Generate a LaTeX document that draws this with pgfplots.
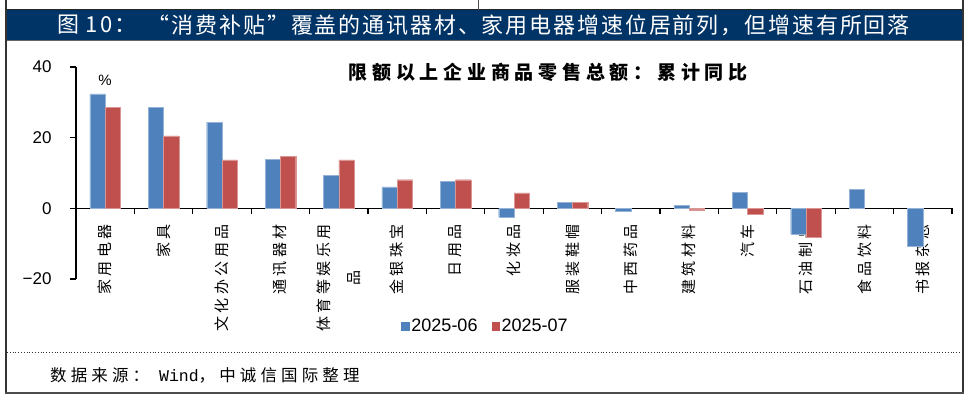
\documentclass[border=0pt]{standalone}
\usepackage{pgfplots}
\pgfplotsset{compat=1.18}
\usepackage{fontspec}
\setmainfont{Liberation Sans}
\newfontfamily\cjk{Noto Sans CJK SC}
\newfontfamily\cjktitle[LetterSpace=8.5]{Noto Sans CJK SC}
\newfontfamily\cjksub[LetterSpace=25]{Noto Sans CJK SC}
\newfontfamily\cjklab[LetterSpace=23]{Noto Sans CJK SC}
\newfontfamily\cjksrc[LetterSpace=25]{Noto Sans CJK SC}
\newfontfamily\mono{Liberation Mono}
\definecolor{barblue}{RGB}{79,129,189}
\definecolor{barred}{RGB}{192,80,77}
\definecolor{navy}{RGB}{0,51,102}
\begin{document}
\begin{tikzpicture}
\useasboundingbox (0,0) rectangle (970pt,398pt);
\fill[white] (0,0) rectangle (970pt,398pt);
% title bar
\fill[navy] (7pt,358pt) rectangle (963pt,388pt);
\draw[black!85, line width=1pt] (6pt,388.5pt) -- (963pt,388.5pt);
\draw[black!60, line width=1pt] (6pt,357.5pt) -- (963pt,357.5pt);
\node[anchor=west, text=white, inner sep=0pt, font=\cjktitle\fontsize{22}{24}\selectfont] at (57pt,373pt) {图 10：};
\node[anchor=east, text=white, inner sep=0pt, font=\cjktitle\fontsize{22}{24}\selectfont] at (910pt,373pt) {“消费补贴”覆盖的通讯器材、家用电器增速位居前列，但增速有所回落};
% borders
\draw[black!80, line width=2pt] (6pt,398pt) -- (6pt,5pt);
\draw[black!80, line width=2pt] (963pt,398pt) -- (963pt,5pt);
\draw[black!70, line width=1.2pt] (5pt,5pt) -- (964pt,5pt);
\draw[black!70, line width=0.8pt] (478pt,398pt) -- (478pt,388pt);
\draw[black!80, line width=0.8pt, dotted] (7pt,46pt) -- (962pt,46pt);
% source
\node[anchor=west, inner sep=0pt, font=\cjksrc\fontsize{16.5}{20}\selectfont] at (50pt,22.5pt) {数据来源：{\mono\fontsize{16.5}{20}\selectfont\ Wind}，中诚信国际整理};
% subtitle
\node[inner sep=0pt, font=\cjksub\bfseries\fontsize{19}{22}\selectfont] at (548pt,326pt) {限额以上企业商品零售总额：累计同比};
\node[inner sep=0pt, font=\fontsize{15}{18}\selectfont] at (105pt,318pt) {\%};
\begin{axis}[
  at={(76pt,119pt)}, anchor=south west,
  scale only axis, width=876pt, height=212pt,
  xmin=-0.5, xmax=14.5, ymin=-20, ymax=40,
  axis y line=left, axis x line=middle,
  axis line style={-, black, line width=1.2pt},
  ytick={-20,0,20,40},
  yticklabels={−20,0,20,40},
  yticklabel style={font=\fontsize{17}{18}\selectfont, xshift=-15pt},
  /pgf/number format/assume math mode=true,
  y tick style={black, line width=1.2pt},
  tick align=outside, major tick length=6pt,
  xtick={0,...,14},
  x tick style={draw=none},
  xticklabels={家用电器,家具,文化办公用品,通讯器材,{体育等娱乐用\\品},金银珠宝,日用品,化妆品,服装鞋帽,中西药品,建筑材料,汽车,石油制品,食品饮料,书报杂志},
  xticklabel style={rotate=90, anchor=east, align=center, font=\cjklab\fontsize{15}{30}\selectfont, inner sep=0pt},
  xticklabel shift=10pt,
  ybar=0pt, bar width=15.3pt,
  legend style={at={(0.4675,-0.222)}, anchor=center, draw=none, fill=none,
    font=\fontsize{18}{20}\selectfont, legend columns=2,
    /tikz/every even column/.append style={column sep=12pt}},
  legend cell align=left,
  clip=false,
]
\addplot[fill=barblue, draw=barblue!60!white, line width=0.4pt,
  legend image code/.code={\fill[barblue] (0pt,-3.8pt) rectangle (7.6pt,3.8pt);}]
  coordinates {(0,32.4) (1,28.6) (2,24.4) (3,13.9) (4,9.4) (5,6.1) (6,7.7) (7,-2.4) (8,1.7) (9,-0.8) (10,0.9) (11,4.5) (12,-7.2) (13,5.4) (14,-10.7)};
\addplot[fill=barred, draw=barred!60!white, line width=0.4pt,
  legend image code/.code={\fill[barred] (0pt,-3.8pt) rectangle (7.6pt,3.8pt);}]
  coordinates {(0,28.6) (1,20.5) (2,13.7) (3,14.8) (4,13.7) (5,8.1) (6,8.1) (7,4.4) (8,1.6) (10,-0.4) (11,-1.6) (12,-8.3)};
\legend{2025-06,2025-07}
\pgfplotsinvokeforeach{-0.5,0.5,...,14.5}{\draw[black, line width=1.2pt] (axis cs:#1,0) -- ++(0pt,-6pt);}
\end{axis}
\end{tikzpicture}
\end{document}
